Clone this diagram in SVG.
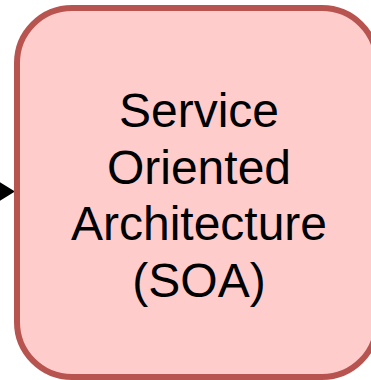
<svg xmlns="http://www.w3.org/2000/svg" width="371" height="380" viewBox="0 0 371 380">
  <style>
    .node-box { fill: #ffcccc; stroke: #b85450; stroke-width: 6; }
    .node-label { font-family: "Liberation Sans", Arial, sans-serif; font-size: 48px; fill: #000000; text-anchor: middle; }
    .edge { stroke: #000000; stroke-width: 2; fill: none; }
    .arrow-head { fill: #000000; stroke: none; }
  </style>
  <g id="connectors">
    <line class="edge" x1="-30" y1="191.5" x2="2" y2="191.5"/>
    <polygon class="arrow-head" points="-2,181 15,191.5 -2,202"/>
  </g>
  <g id="soa">
    <rect class="node-box" x="17" y="8" width="360" height="369" rx="55" ry="55"/>
    <text class="node-label" x="199" y="127">Service</text>
    <text class="node-label" x="199" y="183.5">Oriented</text>
    <text class="node-label" x="199" y="240">Architecture</text>
    <text class="node-label" x="199" y="296.5">(SOA)</text>
  </g>
</svg>
